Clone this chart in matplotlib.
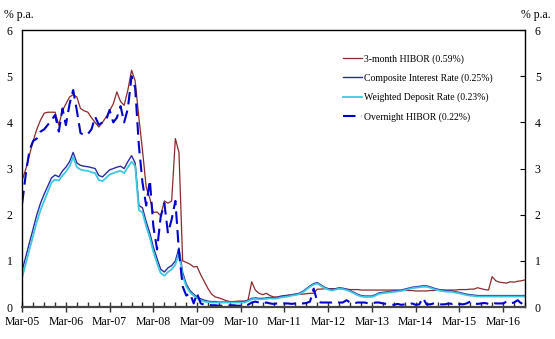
import pandas as pd
import matplotlib.pyplot as plt
import matplotlib.dates as mdates

plt.rcParams['font.family'] = ['Liberation Serif', 'DejaVu Serif']

# Monthly data, Mar-05 to Sep-16
months = pd.date_range('2005-03-01', periods=139, freq='MS')

hibor_3m = [
    2.75, 3.00, 3.30, 3.60, 3.85, 4.05, 4.20, 4.22, 4.22, 4.22,
    3.94, 4.26, 4.40, 4.55, 4.60, 4.55, 4.30, 4.25, 4.22, 4.10,
    4.00, 3.90, 4.00, 4.12, 4.25, 4.40, 4.66, 4.45, 4.37, 4.70,
    5.13, 4.90, 4.10, 3.40, 2.60, 2.35, 2.05, 2.06, 1.98, 2.30,
    2.25, 2.30, 3.65, 3.35, 1.00, 0.97, 0.93, 0.87, 0.88, 0.70,
    0.55, 0.40, 0.28, 0.22, 0.20, 0.17, 0.14, 0.12, 0.12, 0.13,
    0.13, 0.13, 0.15, 0.55, 0.37, 0.30, 0.27, 0.30, 0.25, 0.22,
    0.22, 0.24, 0.25, 0.26, 0.27, 0.28, 0.28, 0.28, 0.29, 0.30,
    0.30, 0.39, 0.39, 0.40, 0.40, 0.40, 0.40, 0.40, 0.39, 0.39,
    0.38, 0.38, 0.38, 0.37, 0.37, 0.37, 0.37, 0.37, 0.37, 0.37,
    0.37, 0.37, 0.37, 0.37, 0.36, 0.36, 0.36, 0.36, 0.35, 0.35,
    0.35, 0.35, 0.36, 0.36, 0.37, 0.37, 0.37, 0.37, 0.37, 0.37,
    0.38, 0.38, 0.38, 0.39, 0.39, 0.42, 0.40, 0.38, 0.37, 0.66,
    0.57, 0.54, 0.53, 0.52, 0.55, 0.54, 0.56, 0.57, 0.59,
]

composite_rate = [
    0.80, 1.10, 1.40, 1.70, 2.00, 2.25, 2.45, 2.62, 2.80, 2.86,
    2.82, 2.95, 3.03, 3.15, 3.35, 3.12, 3.07, 3.05, 3.04, 3.02,
    3.00, 2.85, 2.82, 2.90, 2.97, 3.00, 3.03, 3.05, 3.00, 3.15,
    3.28, 3.12, 2.20, 2.15, 1.85, 1.60, 1.30, 1.05, 0.82, 0.76,
    0.85, 0.90, 1.00, 1.28, 0.75, 0.50, 0.36, 0.28, 0.22, 0.18,
    0.15, 0.13, 0.12, 0.12, 0.11, 0.11, 0.11, 0.11, 0.11, 0.11,
    0.12, 0.12, 0.15, 0.19, 0.20, 0.19, 0.19, 0.20, 0.21, 0.20,
    0.21, 0.23, 0.24, 0.25, 0.27, 0.28, 0.30, 0.34, 0.40, 0.46,
    0.51, 0.53, 0.48, 0.43, 0.40, 0.38, 0.40, 0.42, 0.41, 0.39,
    0.36, 0.32, 0.28, 0.25, 0.24, 0.24, 0.24, 0.27, 0.31, 0.32,
    0.33, 0.34, 0.35, 0.36, 0.37, 0.39, 0.41, 0.43, 0.44, 0.45,
    0.46, 0.46, 0.44, 0.41, 0.39, 0.37, 0.36, 0.35, 0.35, 0.33,
    0.32, 0.30, 0.28, 0.27, 0.26, 0.25, 0.25, 0.25, 0.25, 0.25,
    0.25, 0.25, 0.25, 0.25, 0.25, 0.25, 0.25, 0.25, 0.25,
]

deposit_rate = [
    0.65, 0.95, 1.25, 1.55, 1.85, 2.10, 2.30, 2.50, 2.70, 2.76,
    2.74, 2.85, 2.93, 3.05, 3.25, 3.03, 2.98, 2.96, 2.95, 2.92,
    2.90, 2.75, 2.73, 2.80, 2.87, 2.90, 2.93, 2.95, 2.90, 3.03,
    3.15, 3.05, 2.10, 2.05, 1.75, 1.50, 1.20, 0.95, 0.74, 0.68,
    0.76, 0.82, 0.92, 1.18, 0.68, 0.45, 0.32, 0.25, 0.19, 0.15,
    0.12, 0.11, 0.10, 0.10, 0.10, 0.10, 0.10, 0.10, 0.10, 0.10,
    0.10, 0.10, 0.13, 0.17, 0.18, 0.17, 0.17, 0.18, 0.19, 0.18,
    0.19, 0.21, 0.22, 0.23, 0.25, 0.26, 0.28, 0.32, 0.38, 0.44,
    0.49, 0.51, 0.46, 0.41, 0.38, 0.36, 0.38, 0.40, 0.39, 0.37,
    0.34, 0.30, 0.26, 0.23, 0.22, 0.22, 0.22, 0.25, 0.29, 0.30,
    0.31, 0.32, 0.33, 0.34, 0.35, 0.37, 0.39, 0.41, 0.42, 0.43,
    0.44, 0.44, 0.42, 0.39, 0.37, 0.35, 0.34, 0.33, 0.33, 0.31,
    0.30, 0.28, 0.26, 0.25, 0.24, 0.23, 0.23, 0.23, 0.23, 0.23,
    0.23, 0.23, 0.23, 0.23, 0.23, 0.23, 0.23, 0.23, 0.23,
]

hibor_on = [
    2.25, 2.90, 3.40, 3.60, 3.65, 3.80, 3.85, 3.95, 4.05, 4.16,
    3.80, 4.30, 3.94, 4.40, 4.70, 4.25, 3.77, 3.72, 3.75, 3.85,
    4.12, 3.95, 4.00, 4.05, 4.27, 4.00, 4.10, 4.35, 4.00, 4.30,
    5.00, 4.75, 3.50, 2.70, 2.20, 2.75, 1.75, 1.25, 1.95, 2.25,
    1.60, 1.90, 2.30, 1.20, 0.45, 0.25, 0.30, 0.08, 0.30, 0.08,
    0.05, 0.05, 0.04, 0.04, 0.03, 0.03, 0.03, 0.04, 0.04, 0.03,
    0.03, 0.04, 0.05, 0.10, 0.12, 0.10, 0.08, 0.10, 0.08, 0.07,
    0.08, 0.07, 0.08, 0.08, 0.07, 0.08, 0.08, 0.08, 0.09, 0.12,
    0.40, 0.12, 0.10, 0.10, 0.10, 0.10, 0.12, 0.10, 0.10, 0.15,
    0.10, 0.08, 0.10, 0.10, 0.10, 0.08, 0.08, 0.10, 0.10, 0.08,
    0.07, 0.06, 0.05, 0.07, 0.05, 0.06, 0.06, 0.08, 0.05, 0.06,
    0.20, 0.06, 0.06, 0.08, 0.07, 0.06, 0.06, 0.08, 0.07, 0.10,
    0.07, 0.06, 0.08, 0.12, 0.08, 0.07, 0.08, 0.09, 0.07, 0.10,
    0.08, 0.08, 0.08, 0.12, 0.08, 0.10, 0.15, 0.08, 0.22,
]

labels = ['3-month HIBOR (0.59%)', 'Composite Interest Rate (0.25%)',
          'Weighted Deposit Rate (0.23%)', 'Overnight HIBOR (0.22%)']

fig = plt.figure(figsize=(5.55, 3.39), dpi=100)
ax = fig.add_axes([0.04, 0.094, 0.906, 0.8175])

ax.plot(months, hibor_3m, color='#8B2A2A', lw=0.9, label=labels[0])
ax.plot(months, composite_rate, color='#2B2BA0', lw=1.0, label=labels[1])
ax.plot(months, deposit_rate, color='#3CC8E0', lw=1.3, label=labels[2])
ax.plot(months, hibor_on, color='#0000CC', lw=1.5, dashes=(6, 3), label=labels[3])

ax.set_xlim(months[0], months[-1])
ax.set_ylim(0, 6)
ax.set_yticks(range(0, 7))

ax.xaxis.set_major_locator(mdates.MonthLocator(bymonth=3))
ax.xaxis.set_minor_locator(mdates.MonthLocator(bymonth=[3, 6, 9, 12]))
ax.xaxis.set_major_formatter(mdates.DateFormatter('%b-%y'))

ax.tick_params(axis='x', which='major', direction='inout', length=7, width=1,
               labelsize=8.5, pad=3, color='#333333')
ax.tick_params(axis='x', which='minor', direction='in', length=3.5, width=1,
               color='#333333')
ax.tick_params(axis='y', which='both', direction='in', left=False, right=True,
               labelleft=True, labelright=True, length=3.5, labelsize=8.5,
               pad=7)

for side in ['left', 'right', 'top']:
    ax.spines[side].set_linewidth(1.0)
ax.spines['bottom'].set_linewidth(1.6)
ax.spines['bottom'].set_color('#444444')

fig.text(0.008, 0.955, '% p.a.', fontsize=8.5, ha='left', va='center')
fig.text(0.992, 0.955, '% p.a.', fontsize=8.5, ha='right', va='center')

ax.legend(loc='upper left', bbox_to_anchor=(0.62, 0.945), frameon=False,
          fontsize=7, handlelength=2.0, handletextpad=0.15, labelspacing=1.0)

fig.savefig('out.png', dpi=100)
